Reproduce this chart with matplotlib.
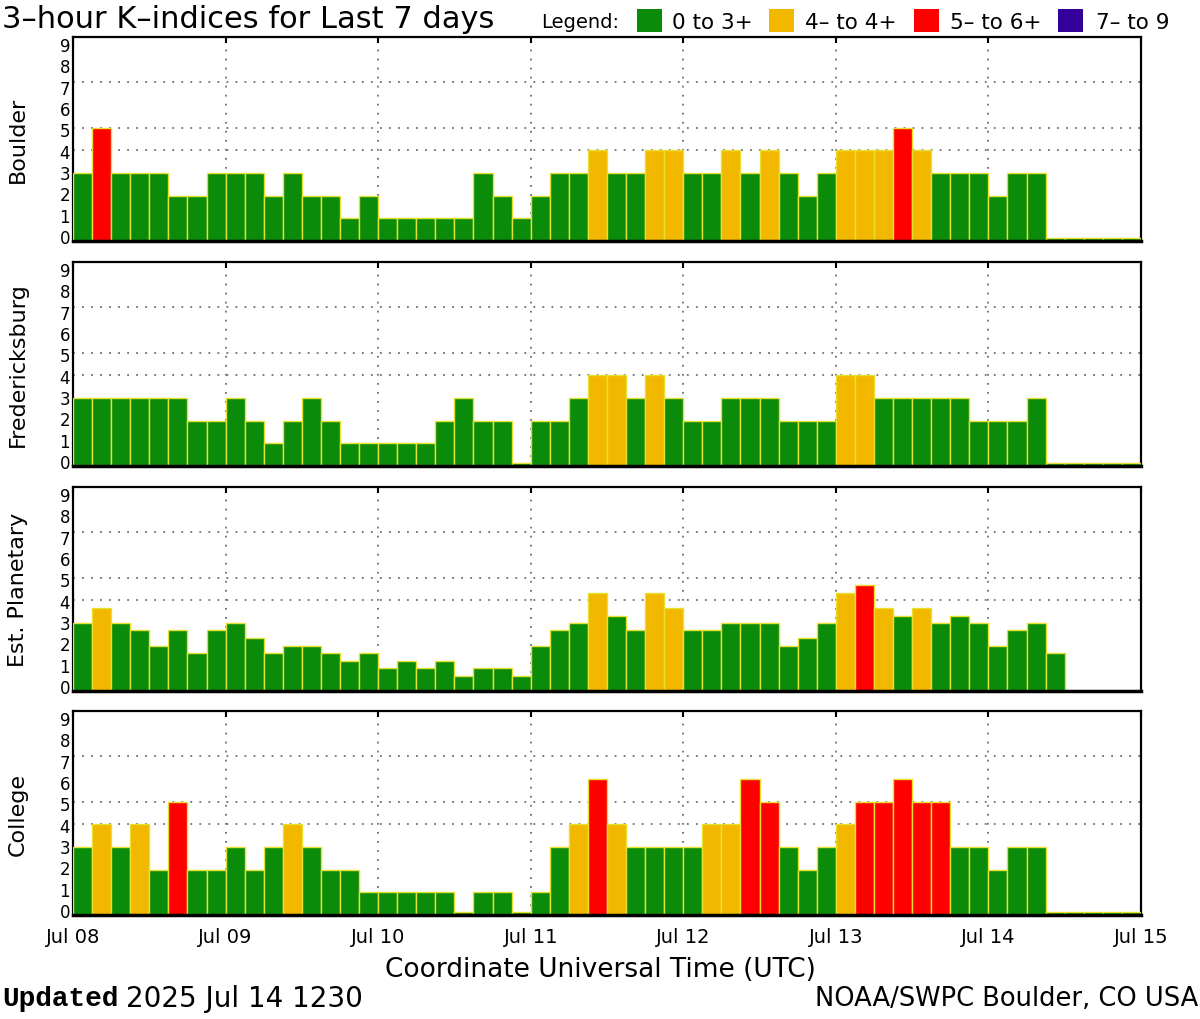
import numpy as np
import matplotlib
matplotlib.use("Agg")
import matplotlib.pyplot as plt
from matplotlib.patches import Rectangle

# ---------------- data ----------------
day_labels = ["Jul 08", "Jul 09", "Jul 10", "Jul 11", "Jul 12", "Jul 13", "Jul 14", "Jul 15"]
panel_names = ["Boulder", "Fredericksburg", "Est. Planetary", "College"]

boulder = [3, 5, 3, 3, 3, 2, 2, 3,
           3, 3, 2, 3, 2, 2, 1, 2,
           1, 1, 1, 1, 1, 3, 2, 1,
           2, 3, 3, 4, 3, 3, 4, 4,
           3, 3, 4, 3, 4, 3, 2, 3,
           4, 4, 4, 5, 4, 3, 3, 3,
           2, 3, 3, 0, 0, 0, 0, 0]

fredericksburg = [3, 3, 3, 3, 3, 3, 2, 2,
                  3, 2, 1, 2, 3, 2, 1, 1,
                  1, 1, 1, 2, 3, 2, 2, 0,
                  2, 2, 3, 4, 4, 3, 4, 3,
                  2, 2, 3, 3, 3, 2, 2, 2,
                  4, 4, 3, 3, 3, 3, 3, 2,
                  2, 2, 3, 0, 0, 0, 0, 0]

planetary = [3.00, 3.67, 3.00, 2.67, 2.00, 2.67, 1.67, 2.67,
             3.00, 2.33, 1.67, 2.00, 2.00, 1.67, 1.33, 1.67,
             1.00, 1.33, 1.00, 1.33, 0.67, 1.00, 1.00, 0.67,
             2.00, 2.67, 3.00, 4.33, 3.33, 2.67, 4.33, 3.67,
             2.67, 2.67, 3.00, 3.00, 3.00, 2.00, 2.33, 3.00,
             4.33, 4.67, 3.67, 3.33, 3.67, 3.00, 3.33, 3.00,
             2.00, 2.67, 3.00, 1.67, None, None, None, None]

college = [3, 4, 3, 4, 2, 5, 2, 2,
           3, 2, 3, 4, 3, 2, 2, 1,
           1, 1, 1, 1, 0, 1, 1, 0,
           1, 3, 4, 6, 4, 3, 3, 3,
           3, 4, 4, 6, 5, 3, 2, 3,
           4, 5, 5, 6, 5, 5, 3, 3,
           2, 3, 3, 0, 0, 0, 0, 0]

y_tick_labels = ["0", "1", "2", "3", "4", "5", "6", "7", "8", "9"]
legend_labels = ["0 to 3+", "4– to 4+", "5– to 6+", "7– to 9"]
legend_colors = ["#0A8C0A", "#F2B800", "#FF0000", "#330099"]

series = [boulder, fredericksburg, planetary, college]

GREEN, YELLOW, RED, PURPLE = legend_colors
EDGE = "#E8E030"


def kp_color(v):
    if v < 3.5:
        return GREEN
    if v < 4.5:
        return YELLOW
    if v < 6.5:
        return RED
    return PURPLE


W, H = 1200, 1020
fig = plt.figure(figsize=(W / 100, H / 100), dpi=100)
fig.patch.set_facecolor("white")

left = 73 / W
width = (1141 - 73) / W
panel_px = [(38, 242), (263, 467), (488, 692), (712, 916)]

slot = 1.0 / 8.0
for i, (name, vals) in enumerate(zip(panel_names, series)):
    top_px, bot_px = panel_px[i]
    ax = fig.add_axes([left, 1 - bot_px / H, width, (bot_px - top_px) / H])
    x = np.arange(len(vals)) * slot
    for xi, v in zip(x, vals):
        if v is None:
            continue
        h = v if v > 0 else 0.12
        ax.bar(xi, h, width=slot, align="edge", color=kp_color(v),
               edgecolor=EDGE, linewidth=1.0, zorder=3)
    ax.set_xlim(0, 7)
    ax.set_ylim(0, 9)
    # labels sit slightly inside the frame at both ends, as in the original
    n = len(y_tick_labels)
    ypos = 0.22 + np.arange(n) * (8.47 / (n - 1))
    ax.set_yticks(ypos)
    ax.set_yticklabels(y_tick_labels, fontsize=12, family="DejaVu Sans")
    ax.tick_params(axis="y", length=0, pad=2)
    ax.set_xticks(range(8))
    ax.tick_params(axis="x", length=4, width=1.5, direction="in",
                   top=True, bottom=False, labeltop=False)
    if i == len(series) - 1:
        ax.set_xticklabels(day_labels, fontsize=14)
        ax.tick_params(axis="x", labelbottom=True, pad=9)
    else:
        ax.set_xticklabels([])
    for gy in (4, 5, 7):
        ax.axhline(gy, color="#707070", linestyle=(0, (1, 4)), lw=1.3, zorder=1)
    for gx in range(1, 7):
        ax.axvline(gx, color="#707070", linestyle=(0, (1, 4)), lw=1.3, zorder=1)
    for s in ["top", "left", "right"]:
        ax.spines[s].set_linewidth(1.6)
        ax.spines[s].set_color("black")
    ax.spines["bottom"].set_linewidth(2.5)
    ax.spines["bottom"].set_zorder(5)
    ax.set_ylabel(name, fontsize=16)
    ax.yaxis.set_label_coords(-45 / 1068, 0.5)

# title & legend
fig.text(2 / W, 1 - 19 / H, "3–hour K–indices for Last 7 days", fontsize=22,
         va="center", ha="left")
fig.text(541 / W, 1 - 23 / H, "Legend:", fontsize=14, va="center", ha="left")
box_x = [637, 769, 914, 1058]
text_x = [672, 805, 950, 1096]
for bx, tx, lab, col in zip(box_x, text_x, legend_labels, legend_colors):
    fig.patches.append(Rectangle((bx / W, 1 - 33 / H), 25 / W, 23 / H,
                                 transform=fig.transFigure, facecolor=col,
                                 edgecolor="none"))
    fig.text(tx / W, 1 - 23 / H, lab, fontsize=15.5, va="center", ha="left")

# bottom texts
fig.text(600 / W, 1 - 970 / H, "Coordinate Universal Time (UTC)", fontsize=19,
         ha="center", va="center")
fig.text(2 / W, 1 - 999 / H, "Updated", fontsize=20, family="Liberation Mono",
         weight="bold", ha="left", va="center")
fig.text(126 / W, 1 - 999 / H, "2025 Jul 14 1230", fontsize=20, ha="left",
         va="center")
fig.text(1198 / W, 1 - 999 / H, "NOAA/SWPC Boulder, CO USA", fontsize=18.5,
         ha="right", va="center")

fig.savefig("out.png", dpi=100, facecolor="white")
